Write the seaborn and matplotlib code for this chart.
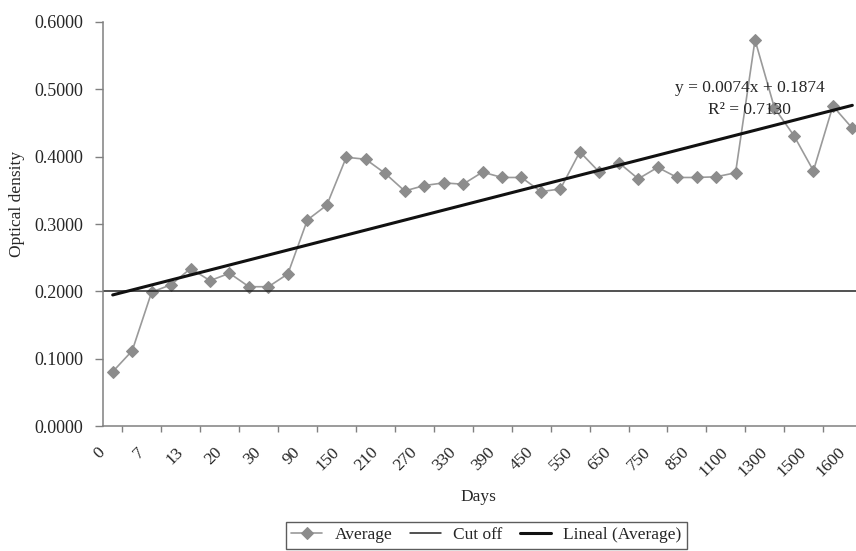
import numpy as np
import pandas as pd
import matplotlib
matplotlib.use("Agg")
import matplotlib.pyplot as plt
import seaborn as sns
from matplotlib.ticker import FormatStrFormatter, FixedLocator

# ---- data ----
day_labels = ["0", "7", "13", "20", "30", "90", "150", "210", "270", "330",
              "390", "450", "550", "650", "750", "850", "1100", "1300", "1500", "1600"]
average = [0.081, 0.112, 0.199, 0.210, 0.234, 0.216, 0.227, 0.207, 0.207, 0.226,
           0.306, 0.328, 0.399, 0.396, 0.375, 0.349, 0.357, 0.361, 0.359, 0.377,
           0.369, 0.369, 0.348, 0.352, 0.407, 0.377, 0.391, 0.367, 0.384, 0.369,
           0.369, 0.370, 0.376, 0.573, 0.472, 0.431, 0.379, 0.475, 0.442]
cutoff = 0.2
trend_slope = 0.0074
trend_intercept = 0.1874
r_squared = 0.7130
y_ticks = [0.0, 0.1, 0.2, 0.3, 0.4, 0.5, 0.6]

sns.set_style("white")
plt.rcParams["font.family"] = ["Liberation Serif", "DejaVu Serif"]

n = len(average)
idx = np.arange(n)
df = pd.DataFrame({"idx": idx, "average": average,
                   "trend": trend_slope * (idx + 1) + trend_intercept})

fig = plt.figure(figsize=(8.56, 5.51), dpi=100)
ax = fig.add_axes([0.1203, 0.2263, 0.8868, 0.7343])

sns.lineplot(data=df, x="idx", y="average", ax=ax, color="#9a9a9a", linewidth=1.2,
             marker="D", markersize=6, markerfacecolor="#8c8c8c",
             markeredgecolor="#8c8c8c", label="Average")
ax.axhline(cutoff, color="#222222", linewidth=1.1, label="Cut off")
sns.lineplot(data=df, x="idx", y="trend", ax=ax, color="#111111", linewidth=2.2,
             label="Lineal (Average)")

ax.set_xlim(-0.5, n - 0.5)
ax.set_ylim(0, 0.6)
ax.set_yticks(y_ticks)
ax.yaxis.set_major_formatter(FormatStrFormatter("%.4f"))

# labels sit slightly left of their category centre, as in the source
ax.set_xticks(idx[::2] - 0.5)
ax.set_xticklabels(day_labels, rotation=45, ha="right", va="center",
                   rotation_mode="anchor")
ax.xaxis.set_minor_locator(FixedLocator(np.arange(-0.5, n, 1.0)))
ax.tick_params(axis="x", which="major", length=0, pad=17, labelsize=12.5)
ax.tick_params(axis="x", which="minor", length=4, width=1, color="#808080",
               direction="out", bottom=True)
ax.tick_params(axis="y", which="major", length=6, width=1, color="#808080",
               direction="out", left=True, pad=8, labelsize=13)

for s in ["top", "right"]:
    ax.spines[s].set_visible(False)
for s in ["left", "bottom"]:
    ax.spines[s].set_color("#808080")
    ax.spines[s].set_linewidth(1.1)

ax.set_xlabel("Days", fontsize=12.5)
ax.xaxis.set_label_coords(0.494, -0.155)
ax.set_ylabel("Optical density", fontsize=12.5)
ax.yaxis.set_label_coords(-0.103, 0.549)

ax.text(0.951, 0.836, "y = %.4fx + %.4f" % (trend_slope, trend_intercept),
        transform=ax.transAxes, ha="right", va="center", fontsize=12.5)
ax.text(0.852, 0.782, "R\u00b2 = %.4f" % r_squared,
        transform=ax.transAxes, ha="center", va="center", fontsize=12.5)

handles, labels = ax.get_legend_handles_labels()
ax.get_legend().remove()
leg = fig.legend(handles, labels, loc="upper center", bbox_to_anchor=(0.568, 0.0526),
                 ncol=3, frameon=True, fancybox=False, edgecolor="#333333",
                 fontsize=12.5, handlelength=1.8, handletextpad=0.7,
                 columnspacing=1.0, borderpad=0.3, borderaxespad=0)
leg.get_frame().set_linewidth(1.0)

fig.savefig("out.png", dpi=100)
